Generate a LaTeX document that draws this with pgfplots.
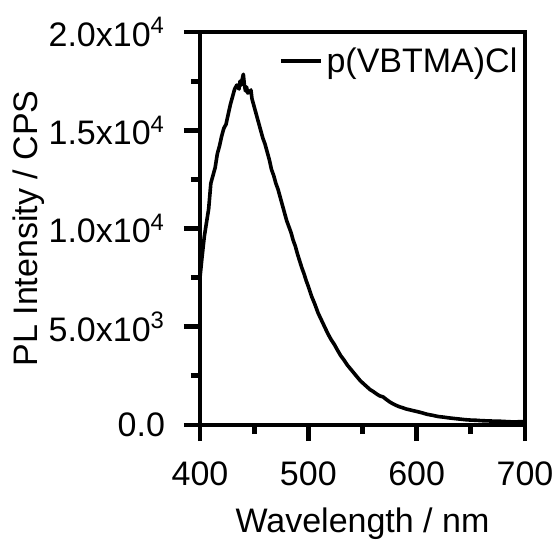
\documentclass[border=0pt]{standalone}
\usepackage{pgfplots}
\pgfplotsset{compat=1.18}
\usepackage{fontspec}
\setmainfont{Liberation Sans}
\newcommand{\myfont}{\fontsize{17bp}{20bp}\selectfont}
\begin{document}
\begin{tikzpicture}
\useasboundingbox (-100bp,-57.5bp) rectangle (178.5bp,212.5bp);
\begin{axis}[
  at={(0,0)}, anchor=south west,
  scale only axis, width=162.5bp, height=196.5bp,
  xmin=400, xmax=700, ymin=0, ymax=20000,
  axis line style={line width=2.4bp, line join=miter},
  tick align=outside,
  xtick pos=left, ytick pos=left,
  major tick length=8bp, minor tick length=4.5bp,
  every major tick/.append style={draw=black, line width=2.4bp},
  every minor tick/.append style={draw=black, line width=2.4bp},
  xtick={400,500,600,700}, minor xtick={450,550,650},
  ytick={0,5000,10000,15000,20000}, minor ytick={2500,7500,12500,17500},
  yticklabels={0.0, 5.0x10\textsuperscript{3}, 1.0x10\textsuperscript{4}, 1.5x10\textsuperscript{4}, 2.0x10\textsuperscript{4}},
  scaled y ticks=false,
  /pgf/number format/assume math mode=true,
  /pgf/number format/set thousands separator={},
  tick label style={font=\myfont},
  xticklabel style={yshift=-7bp},
  yticklabel style={xshift=-6bp},
  label style={font=\myfont},
  xlabel={Wavelength / nm},
  ylabel={PL Intensity / CPS},
  xlabel style={at={(axis description cs:0.5,-0.25)}, anchor=center},
  ylabel style={at={(axis description cs:-0.528,0.5)}, anchor=center, rotate=0},
  legend style={at={(axis description cs:0.99,0.972)}, anchor=north east, draw=none, fill=none, font=\myfont, inner sep=0pt},
  legend image code/.code={\draw[#1] (0bp,0bp) -- (20bp,0bp);},
]
\addplot[black, line width=1.8bp, line join=round] coordinates {
(400,7500) (402,8600) (404,9600) (406,10300) (408,11000) (410,12300) (412,12700) (414,13100)
(416,13800) (418,14200) (420,14700) (422,15100) (424,15300) (426,15800) (428,16300) (430,16700)
(432,17100) (434,17300) (436,17100) (437,17500) (438,17300) (439,17600) (440,17850) (441,17300)
(442,17000) (443,17200) (444,16900) (446,16950) (447,17050) (448,16600) (450,16200) (452,15800)
(454,15400) (456,15000) (458,14600) (460,14300) (462,13900) (464,13500) (466,13000) (468,12700)
(470,12300) (472,12000) (474,11600) (476,11200) (478,10800) (480,10400) (482,10100) (484,9800)
(486,9400) (488,9100) (490,8700) (492,8350) (494,8000) (496,7700) (498,7350) (500,7050)
(503,6550) (506,6150) (509,5700) (512,5350) (515,5000) (518,4650) (521,4350) (524,4100)
(527,3800) (530,3520) (533,3300) (536,3050) (539,2850) (542,2650) (545,2450) (548,2250)
(551,2100) (554,1950) (557,1800) (560,1700) (563,1580) (566,1480) (569,1430) (572,1300)
(575,1180) (578,1080) (581,1000) (584,930) (587,880) (590,820) (593,780) (596,740)
(600,690) (605,620) (610,540) (615,490) (620,430) (625,400) (630,360) (635,330)
(640,300) (645,270) (650,250) (655,240) (660,220) (665,210) (670,200) (675,200)
(680,180) (685,170) (690,150) (695,170) (700,160)
};
\addlegendentry{p(VBTMA)Cl}
\end{axis}
\end{tikzpicture}
\end{document}
